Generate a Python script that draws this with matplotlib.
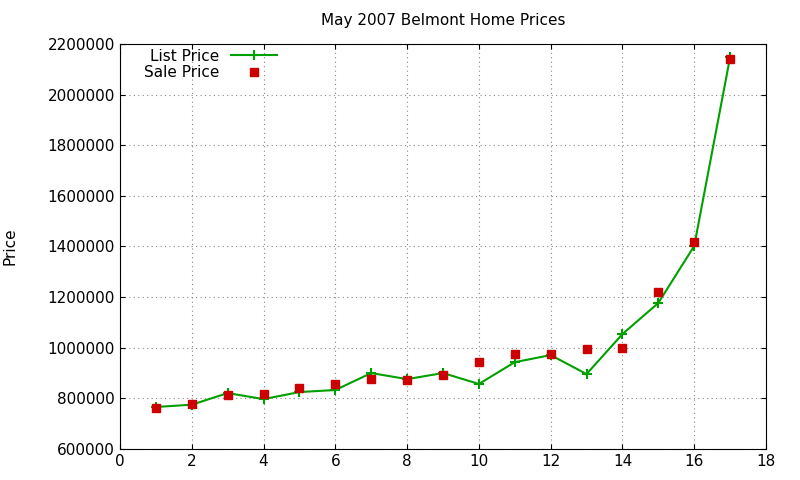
import matplotlib
matplotlib.use("Agg")
import matplotlib.pyplot as plt

x = list(range(1, 18))
list_price = [766000, 775000, 821000, 797000, 825000, 833000, 900000, 876000, 900000,
              857000, 943000, 971000, 896000, 1054000, 1177000, 1402000, 2148000]
sale_price = [762000, 777000, 813000, 817000, 841000, 857000, 876000, 872000, 892000,
              944000, 975000, 975000, 995000, 999000, 1220000, 1418000, 2140000]

fig = plt.figure(figsize=(8, 4.8), dpi=100)
ax = fig.add_axes([120/800, 1-449/480, 646/800, 405/480])
ax.plot(x, list_price, color="#00a000", lw=1.5, marker="+", ms=7, mew=1.5, label="List Price")
ax.plot(x, sale_price, ls="none", marker="s", color="#cc0000", ms=6, label="Sale Price")
ax.set_xlim(0, 18)
ax.set_ylim(600000, 2200000)
ax.set_xticks(range(0, 19, 2))
ax.set_yticks(range(600000, 2200001, 200000))
ax.set_yticklabels([str(v) for v in range(600000, 2200001, 200000)])
ax.grid(True, ls=(0, (1, 3)), color="#888888", lw=0.8)
ax.tick_params(direction="in", top=True, right=True, labelsize=11)
ax.set_ylabel("Price", fontsize=11, labelpad=22)
ax.set_title("May 2007 Belmont Home Prices", fontsize=11, pad=14)
leg = ax.legend(loc="upper left", bbox_to_anchor=(0.02, 1.015), frameon=False, fontsize=11,
                markerfirst=False, handlelength=3, borderaxespad=0.3, labelspacing=0.1)
for t in leg.get_texts():
    t.set_ha("right")
fig.savefig("out.png", dpi=100)
